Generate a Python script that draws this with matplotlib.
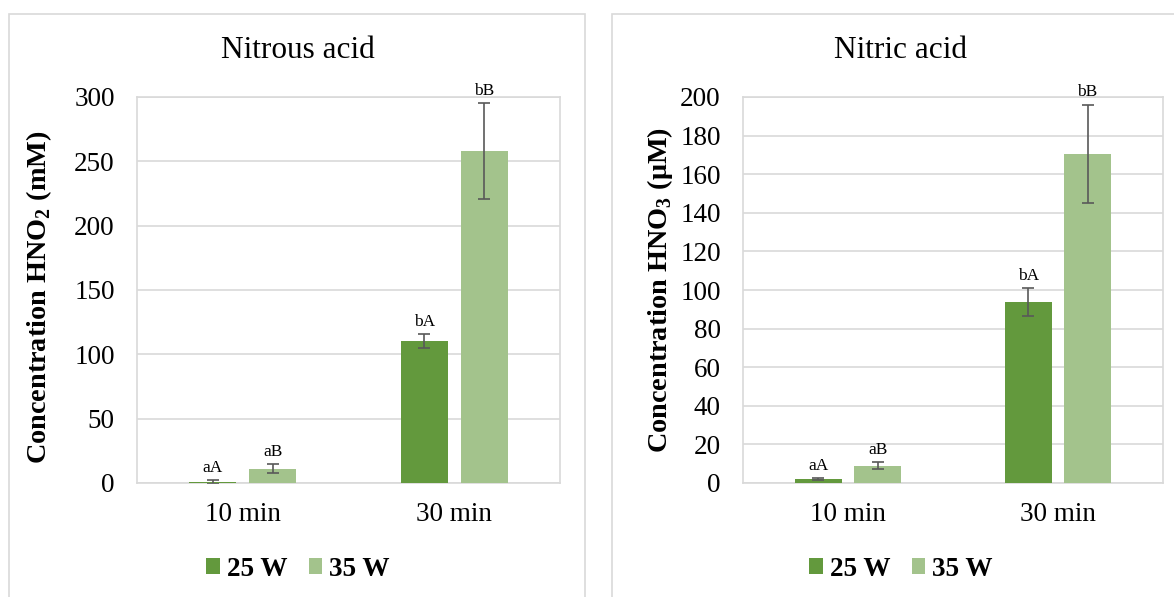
import matplotlib
matplotlib.use('Agg')
import matplotlib.pyplot as plt
import numpy as np
from matplotlib.patches import Rectangle

plt.rcParams['font.family'] = ['Liberation Serif', 'DejaVu Serif']
plt.rcParams['mathtext.fontset'] = 'custom'
plt.rcParams['mathtext.rm'] = 'Liberation Serif'
plt.rcParams['mathtext.bf'] = 'Liberation Serif:bold'

# data
times = ['10 min', '30 min']
series = ['25 W', '35 W']

nitrous_25 = [0.8, 110.5]
nitrous_35 = [11.2, 258.0]
nitrous_25_err = [1.5, 5.3]
nitrous_35_err = [3.2, 37.0]
nitrous_letters_25 = ['aA', 'bA']
nitrous_letters_35 = ['aB', 'bB']

nitric_25 = [1.9, 93.8]
nitric_35 = [9.0, 170.5]
nitric_25_err = [0.6, 7.2]
nitric_35_err = [1.8, 25.6]
nitric_letters_25 = ['aA', 'bA']
nitric_letters_35 = ['aB', 'bB']

dark = '#63993d'
light = '#a3c38c'
grid = '#d9d9d9'
errc = '#595959'

fig = plt.figure(figsize=(11.74, 5.97), dpi=100)

# outer chart frames
for x0, w in [(9, 576), (612, 600)]:
    fig.patches.append(Rectangle((x0 / 1174, -0.05), w / 1174, (597 - 14) / 597 + 0.05,
                                 transform=fig.transFigure, fill=False,
                                 edgecolor='#d9d9d9', lw=1.2))


def panel(rect, v25, v35, e25, e35, l25, l35, ymax, ystep, title, ylabel, tcx, ylx, yly):
    ax = fig.add_axes(rect)
    x = np.arange(len(times))
    w = 0.222
    off = 0.141
    ax.bar(x - off, v25, w, color=dark, label=series[0], zorder=3)
    ax.bar(x + off, v35, w, color=light, label=series[1], zorder=3)
    ax.errorbar(x - off, v25, yerr=e25, fmt='none', ecolor=errc, elinewidth=1.2,
                capsize=4, capthick=1.2, zorder=4)
    ax.errorbar(x + off, v35, yerr=e35, fmt='none', ecolor=errc, elinewidth=1.2,
                capsize=4, capthick=1.2, zorder=4)
    for xs, vals, errs, labs in [(x - off, v25, e25, l25), (x + off, v35, e35, l35)]:
        for xi, v, e, t in zip(xs, vals, errs, labs):
            ax.annotate(t, (xi, v + e), xytext=(0, 3), textcoords='offset points',
                        ha='center', va='bottom', fontsize=12.5)
    ax.set_xlim(-0.5, 1.5)
    ax.set_ylim(0, ymax)
    ax.set_yticks(np.arange(0, ymax + 1, ystep))
    ax.set_xticks(x)
    ax.set_xticklabels(times)
    ax.tick_params(axis='both', length=0, labelsize=19.5)
    ax.tick_params(axis='x', pad=14)
    ax.tick_params(axis='y', pad=16)
    ax.yaxis.grid(True, color=grid, lw=1.2, zorder=0)
    ax.set_axisbelow(True)
    for s in ax.spines.values():
        s.set_color(grid)
        s.set_linewidth(1.2)
    ax.set_ylabel(ylabel, fontsize=20.3, fontweight='bold')
    ax.yaxis.set_label_coords(ylx, yly)
    fig.text(tcx / 1174, 1 - 50 / 597, title, ha='center', va='center', fontsize=22.5)
    handles, labels = ax.get_legend_handles_labels()
    fig.legend(handles, labels, loc='center', bbox_to_anchor=(tcx / 1174, 1 - 569 / 597),
               ncol=2, frameon=False, prop={'weight': 'bold', 'size': 19.5},
               handlelength=0.5, handleheight=0.5, handletextpad=0.26, columnspacing=0.8)
    return ax


panel([137 / 1174, 1 - 483 / 597, 423 / 1174, 386 / 597],
      nitrous_25, nitrous_35, nitrous_25_err, nitrous_35_err,
      nitrous_letters_25, nitrous_letters_35, 300, 50, 'Nitrous acid',
      r'Concentration HNO$_\mathregular{2}$ (mM)', 298, -0.196, 0.48)
panel([743 / 1174, 1 - 483 / 597, 420 / 1174, 386 / 597],
      nitric_25, nitric_35, nitric_25_err, nitric_35_err,
      nitric_letters_25, nitric_letters_35, 200, 20, 'Nitric acid',
      r'Concentration HNO$_\mathregular{3}$ (μM)', 901, -0.162, 0.5)

fig.savefig('out.png', dpi=100)
